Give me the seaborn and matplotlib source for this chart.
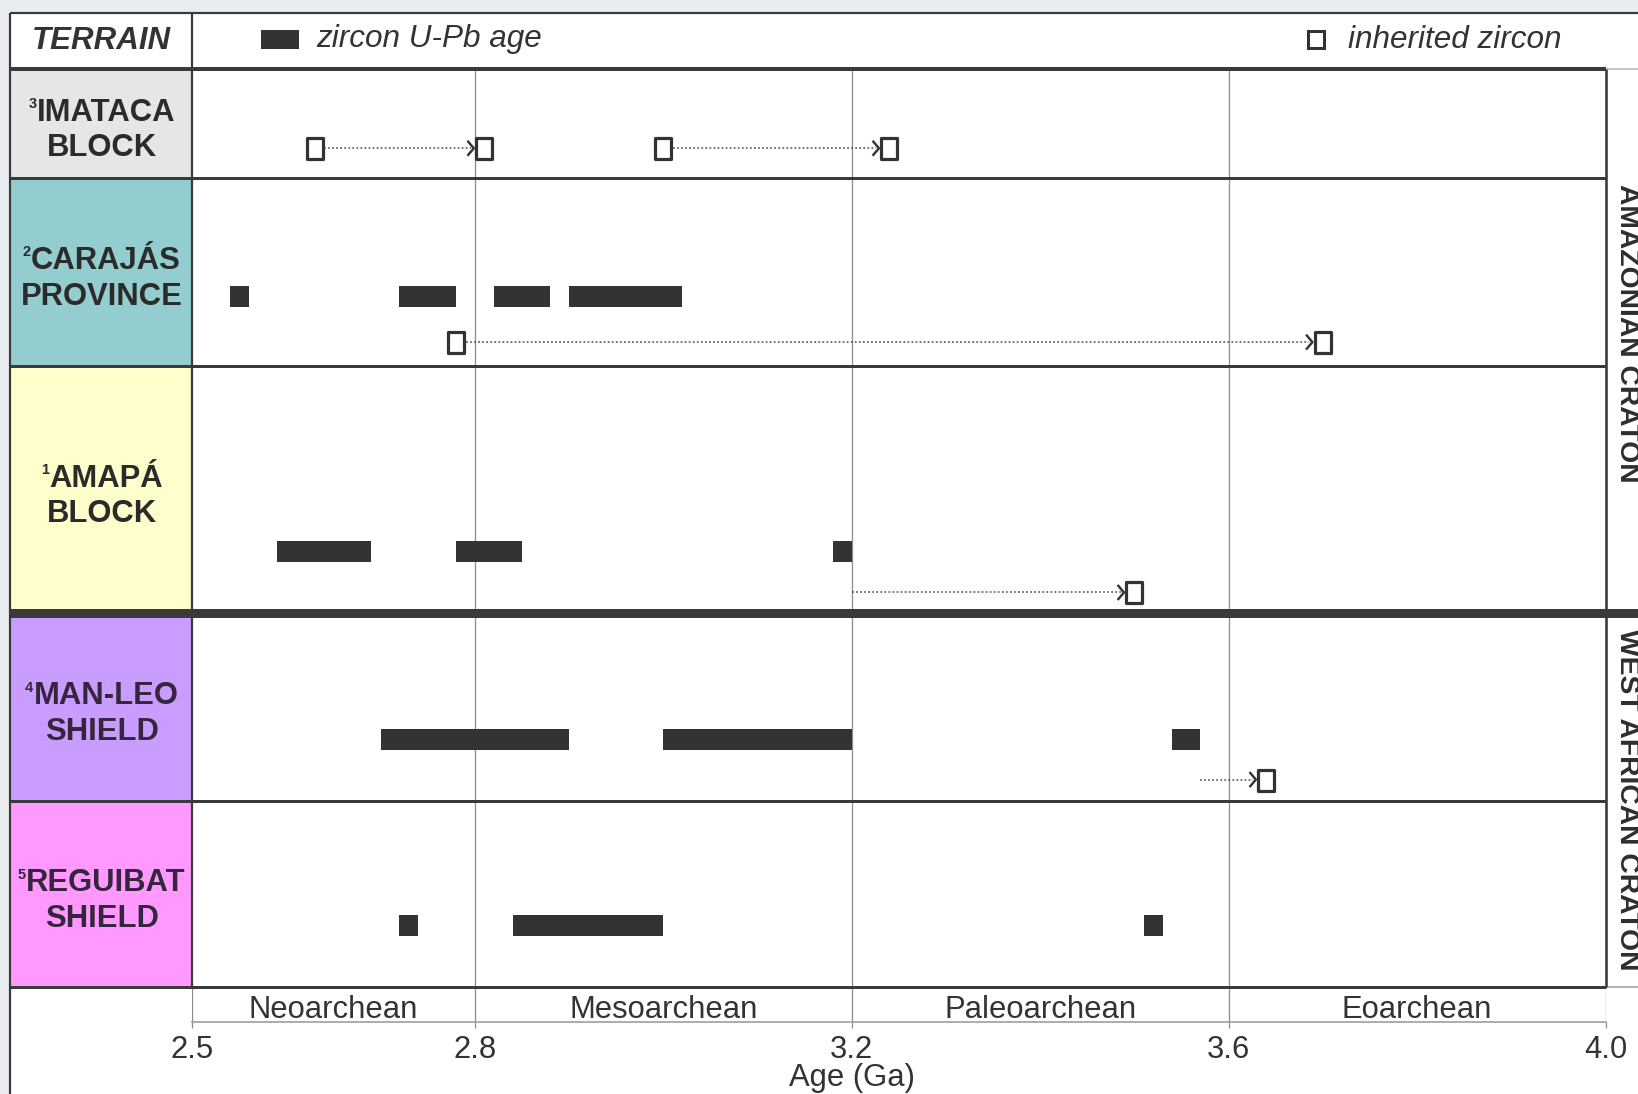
import numpy as np
import pandas as pd
import matplotlib
matplotlib.use("Agg")
import matplotlib.pyplot as plt
from matplotlib.path import Path
from matplotlib.patches import Rectangle
import seaborn as sns

# ---------------------------------------------------------------- data
terrains = ["Imataca", "Carajás", "Amapá", "Man-Leo", "Reguibat"]
terrain_labels = ["IMATACA\nBLOCK", "CARAJÁS\nPROVINCE", "AMAPÁ\nBLOCK",
                  "MAN-LEO\nSHIELD", "REGUIBAT\nSHIELD"]
terrain_refs = ["3", "2", "1", "4", "5"]
terrain_colors = ["#e6e6e6", "#93cdd0", "#ffffcc", "#c99cff", "#ff99ff"]
terrain_text_colors = ["#2b2b2b", "#2b2b2b", "#2b2b2b", "#35263d", "#35263d"]

cratons = ["AMAZONIAN CRATON", "WEST AFRICAN CRATON"]
craton_terrains = [["Imataca", "Carajás", "Amapá"], ["Man-Leo", "Reguibat"]]

# zircon U-Pb age ranges (Ga)
upb_terrain = ["Carajás"] * 4 + ["Amapá"] * 3 + ["Man-Leo"] * 3 + ["Reguibat"] * 3
upb_start = [2.54, 2.72, 2.82, 2.90, 2.59, 2.78, 3.18, 2.70, 3.00, 3.54, 2.72, 2.84, 3.51]
upb_end = [2.56, 2.78, 2.88, 3.02, 2.69, 2.85, 3.20, 2.90, 3.20, 3.57, 2.74, 3.00, 3.53]

# inherited zircon: arrow from the host age to the inherited (older) age, Ga
inh_terrain = ["Imataca", "Imataca", "Carajás", "Amapá", "Man-Leo"]
inh_from = [2.63, 3.00, 2.78, 3.20, 3.57]
inh_to = [2.81, 3.24, 3.70, 3.50, 3.64]
inh_from_is_zircon = [True, True, True, False, False]

periods = ["Neoarchean", "Mesoarchean", "Paleoarchean", "Eoarchean"]
period_bounds = [2.5, 2.8, 3.2, 3.6, 4.0]
age_ticks = [2.5, 2.8, 3.2, 3.6, 4.0]

# ---------------------------------------------------------------- layout (pixels)
W, H = 1638, 1094
DPI = 100
FRAME_L, FRAME_T = 10, 12.5
COL_R = 192.2          # right edge of the terrain column
PLOT_R = 1605.6        # right edge of the age panel
HEAD_B = 69            # bottom of the header row
row_h = [108.6, 188.0, 247.4, 188.0, 186.0]
bar_frac = {"Carajás": 0.63, "Amapá": 0.75, "Man-Leo": 0.675, "Reguibat": 0.672}
inh_frac = {"Imataca": 0.73, "Carajás": 0.875, "Amapá": 0.917, "Man-Leo": 0.886}
BAND_B = 1022          # bottom of the period band
row_tops = np.concatenate([[0], np.cumsum(row_h)[:-1]])
PANEL_H = float(np.sum(row_h))
PANEL_B = HEAD_B + PANEL_H
row_top = dict(zip(terrains, row_tops))
row_height = dict(zip(terrains, row_h))

DARK = "#333333"
LINE = "#3a3a3a"
GRID = "#8e8e8e"
PT = 72.0 / DPI        # points per pixel

sns.set_theme(style="white")
plt.rcParams["font.family"] = ["Liberation Sans", "DejaVu Sans"]
plt.rcParams["text.color"] = DARK


def px_rect(x0, y0, x1, y1):
    return [x0 / W, 1 - y1 / H, (x1 - x0) / W, (y1 - y0) / H]


fig = plt.figure(figsize=(W / DPI, H / DPI), dpi=DPI)
fig.patch.set_facecolor("#e9edf1")

# background layer: panel and terrain colour column
bg = fig.add_axes([0, 0, 1, 1], zorder=0)
bg.set_xlim(0, W)
bg.set_ylim(H, 0)
bg.axis("off")
bg.add_patch(Rectangle((FRAME_L, FRAME_T), W - FRAME_L, H - FRAME_T,
                       facecolor="white", edgecolor="none"))
for name, color in zip(terrains, terrain_colors):
    bg.add_patch(Rectangle((FRAME_L, HEAD_B + row_top[name]), COL_R - FRAME_L,
                           row_height[name], facecolor=color, edgecolor="none"))

# ---------------------------------------------------------------- age panel
ax = fig.add_axes(px_rect(COL_R, HEAD_B, PLOT_R, PANEL_B), zorder=1)
ax.set_facecolor("none")
for v in period_bounds[1:-1]:
    ax.axvline(v, color=GRID, lw=1.3 * PT, zorder=0)

ga_per_px = 1.5 / (PLOT_R - COL_R)
half_sq = 9.5 * ga_per_px

upb = pd.DataFrame({"terrain": upb_terrain, "start": upb_start, "end": upb_end})
upb["y"] = [row_top[t] + bar_frac[t] * row_height[t] for t in upb["terrain"]]
ax.barh(upb["y"], upb["end"] - upb["start"], left=upb["start"], height=21,
        color=DARK, edgecolor="none", zorder=3)

inh = pd.DataFrame({"terrain": inh_terrain, "src": inh_from, "dst": inh_to,
                    "src_marked": inh_from_is_zircon})
inh["y"] = [row_top[t] + inh_frac[t] * row_height[t] for t in inh["terrain"]]

for _, r in inh.iterrows():
    x0 = r["src"] + (half_sq if r["src_marked"] else 0.0)
    x1 = r["dst"] - half_sq - 4 * ga_per_px
    ax.plot([x0, x1], [r["y"], r["y"]], color="#4a4a4a", lw=1.5 * PT,
            linestyle=(0, (1.2, 1.5)), zorder=2)

rect_marker = Path([(-0.39, -0.5), (0.39, -0.5), (0.39, 0.5), (-0.39, 0.5), (-0.39, -0.5)],
                   [Path.MOVETO, Path.LINETO, Path.LINETO, Path.LINETO, Path.CLOSEPOLY])
chevron = Path([(-0.85, 1.0), (0.0, 0.0), (-0.85, -1.0)],
               [Path.MOVETO, Path.LINETO, Path.LINETO])

squares = pd.concat([
    pd.DataFrame({"age": inh["dst"], "y": inh["y"]}),
    pd.DataFrame({"age": inh.loc[inh["src_marked"], "src"],
                  "y": inh.loc[inh["src_marked"], "y"]}),
], ignore_index=True)
sns.scatterplot(data=squares, x="age", y="y", marker=rect_marker, s=(21 * PT) ** 2,
                color="white", edgecolor=DARK, linewidth=3.2 * PT, ax=ax,
                legend=False, zorder=4)

heads = pd.DataFrame({"age": inh["dst"] - half_sq - 1.0 * ga_per_px, "y": inh["y"]})
sns.scatterplot(data=heads, x="age", y="y", marker=chevron, s=(15 * PT) ** 2,
                facecolor="none", edgecolor=DARK, linewidth=2.4 * PT, ax=ax,
                legend=False, zorder=4)
ax.set_xlim(2.5, 4.0)
ax.set_ylim(PANEL_H, 0)
ax.axis("off")

# ---------------------------------------------------------------- period band and age axis
bax = fig.add_axes(px_rect(COL_R, PANEL_B, PLOT_R, BAND_B), zorder=1)
bax.set_facecolor("none")
bax.set_xlim(2.5, 4.0)
bax.set_ylim(BAND_B - PANEL_B, 0)
for side in ["left", "right", "top"]:
    bax.spines[side].set_visible(False)
bax.spines["bottom"].set_color("#9a9a9a")
bax.spines["bottom"].set_linewidth(1.6 * PT)
for v in period_bounds:
    bax.axvline(v, color=GRID, lw=1.3 * PT, zorder=0)
for name, a, b in zip(periods, period_bounds[:-1], period_bounds[1:]):
    bax.text((a + b) / 2, 31.3, name, ha="center", va="baseline", fontsize=22.3,
             color=DARK)
bax.set_yticks([])
bax.set_xticks(age_ticks)
bax.set_xticklabels([f"{t:.1f}" for t in age_ticks])
bax.tick_params(axis="x", length=6 * PT, width=1.3 * PT, color=GRID, pad=5,
                labelsize=22.3, labelcolor=DARK, direction="out", bottom=True)
bax.set_xlabel("Age (Ga)", fontsize=22.3, color=DARK, labelpad=-1.5,
               x=(3.2 - 2.5) / 1.5)

# ---------------------------------------------------------------- frame, labels, header
ov = fig.add_axes([0, 0, 1, 1], zorder=5)
ov.set_facecolor("none")
ov.set_xlim(0, W)
ov.set_ylim(H, 0)
ov.axis("off")


def hline(y, x0, x1, lw_px, color=LINE):
    ov.plot([x0, x1], [y, y], color=color, lw=lw_px * PT, solid_capstyle="butt")


def vline(x, y0, y1, lw_px, color=LINE):
    ov.plot([x, x], [y0, y1], color=color, lw=lw_px * PT, solid_capstyle="butt")


hline(FRAME_T, FRAME_L, W, 2.2)
hline(HEAD_B, FRAME_L, PLOT_R, 4)
hline(HEAD_B, PLOT_R, W, 1.5, "#b5b5b5")
bounds = HEAD_B + np.cumsum(row_h)
for i, y in enumerate(bounds):
    if i == 2:
        hline(y, FRAME_L, W, 9)
    elif i == len(bounds) - 1:
        hline(y, FRAME_L, PLOT_R, 3)
        hline(y, PLOT_R, W, 1.5, "#9a9a9a")
    else:
        hline(y, FRAME_L, PLOT_R, 3)
vline(FRAME_L, FRAME_T, H, 2.2)
vline(COL_R, FRAME_T, PANEL_B, 2.2)
vline(PLOT_R, HEAD_B, PANEL_B, 2.6)

# header legend
ov.text((FRAME_L + COL_R) / 2, 49, "TERRAIN", ha="center", va="baseline",
        fontsize=22.5, fontweight="bold", fontstyle="italic", color=DARK)
ov.add_patch(Rectangle((261, 29.5), 38, 19.5, facecolor=DARK, edgecolor="none"))
ov.text(316, 47.5, "zircon U-Pb age", ha="left", va="baseline", fontsize=22.7,
        fontstyle="italic", color=DARK)
ov.add_patch(Rectangle((1307.5, 30.5), 16, 17.5, facecolor="white", edgecolor=DARK,
                       lw=3 * PT))
ov.text(1348, 48, "inherited zircon", ha="left", va="baseline", fontsize=22.7,
        fontstyle="italic", color=DARK)

# terrain names with their reference numbers as small superscripts
renderer = fig.canvas.get_renderer()
label_x = (FRAME_L + COL_R) / 2 + 1
for name, label, ref, tcolor in zip(terrains, terrain_labels, terrain_refs,
                                    terrain_text_colors):
    cy = HEAD_B + row_top[name] + row_height[name] / 2 + 4
    first, second = label.split("\n")
    t1 = ov.text(label_x + 4, cy - 6.6, first, ha="center", va="baseline",
                 fontsize=22.3, fontweight="bold", color=tcolor)
    ov.text(label_x, cy + 29.0, second, ha="center", va="baseline",
            fontsize=22.3, fontweight="bold", color=tcolor)
    bb = t1.get_window_extent(renderer=renderer)
    x_left = ov.transData.inverted().transform((bb.x0, bb.y0))[0]
    ov.text(x_left - 0.5, cy - 6.6 - 12.5, ref, ha="right", va="baseline",
            fontsize=10.5, fontweight="bold", color=tcolor)

# craton names in the right margin
for craton, members in zip(cratons, craton_terrains):
    top = HEAD_B + row_top[members[0]]
    bottom = HEAD_B + row_top[members[-1]] + row_height[members[-1]]
    cy = (top + bottom) / 2 - (8 if craton.startswith("AMAZ") else 0)
    ov.text(1627, cy, craton, ha="center", va="center", rotation=270,
            fontsize=20.3, fontweight="bold", color="#2e2e2e")

fig.savefig("out.png", dpi=DPI, facecolor=fig.get_facecolor())
